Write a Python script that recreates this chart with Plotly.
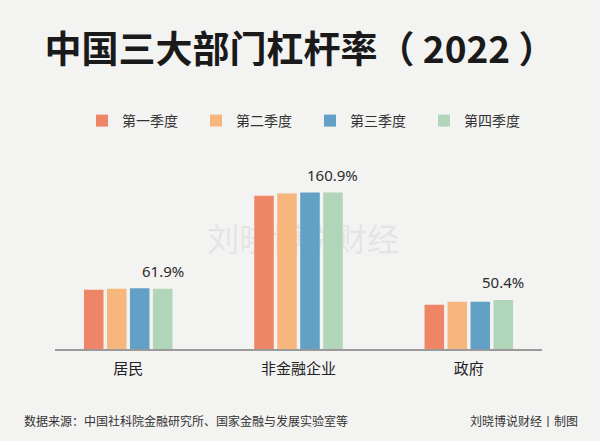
import plotly.graph_objects as go

categories = ["居民", "非金融企业", "政府"]
quarters = ["第一季度", "第二季度", "第三季度", "第四季度"]
q1 = [61.0, 157.6, 45.4]
q2 = [61.9, 159.9, 48.6]
q3 = [62.4, 160.9, 48.7]
q4 = [61.9, 160.9, 50.4]
series = [q1, q2, q3, q4]
colors = ["#EF8567", "#F6B67C", "#62A0C5", "#B0D5B8"]
labels = ["61.9%", "160.9%", "50.4%"]

fig = go.Figure()
for name, vals, c in zip(quarters, series, colors):
    fig.add_trace(go.Bar(x=categories, y=vals, name=name, marker=dict(color=c, line=dict(width=0))))

W, H = 600, 441
ml, mr, mt, mb = 55, 58, 174, 92
pw = W - ml - mr

# value labels above the last quarter bars
slot_shift = 1.5 * (1 - 0.46) * (pw / 2.86) / 4
for cat, v, t in zip(categories, q4, labels):
    fig.add_annotation(x=cat, y=v, text=t, showarrow=False, xshift=slot_shift,
                       yanchor="bottom", yshift=6,
                       font=dict(family="Noto Sans, Open Sans, sans-serif", size=15, color="#2b2b2b"))

# watermark behind bars
fig.add_shape(type="rect", xref="paper", yref="paper", x0=0.3, x1=0.72, y0=0.48, y1=0.74,
              line=dict(width=0), fillcolor="rgba(0,0,0,0)", layer="below",
              label=dict(text="刘晓博说财经", font=dict(family="Noto Sans CJK SC", size=32, color="rgba(200,200,200,0.35)")))

# footer
fig.add_annotation(xref="paper", yref="paper", x=(22 - ml) / pw, y=-(420 - (H - mb)) / (H - mt - mb),
                   xanchor="left", yanchor="middle", showarrow=False,
                   text="数据来源：中国社科院金融研究所、国家金融与发展实验室等",
                   font=dict(family="Noto Sans CJK SC", size=12, color="#333333"))
fig.add_annotation(xref="paper", yref="paper", x=(580 - ml) / pw, y=-(420 - (H - mb)) / (H - mt - mb),
                   xanchor="right", yanchor="middle", showarrow=False,
                   text="刘晓博说财经丨制图",
                   font=dict(family="Noto Sans CJK SC", size=12, color="#333333"))

fig.update_layout(
    width=W, height=H,
    margin=dict(l=ml, r=mr, t=mt, b=mb, pad=0),
    paper_bgcolor="#F3F3F2", plot_bgcolor="rgba(0,0,0,0)",
    barmode="group", bargap=0.46, bargroupgap=0.15,
    title=dict(text="<b>中国三大部门杠杆率（ 2022 ）</b>", x=0.5, xanchor="center",
               y=1 - 50 / H, yanchor="middle", yref="container",
               font=dict(family="Noto Sans CJK SC", size=37, color="#1a1a1a")),
    legend=dict(orientation="h", x=(82 - ml) / pw, xanchor="left",
                y=(H - mb - 121) / (H - mt - mb), yanchor="middle",
                entrywidth=69, entrywidthmode="pixels", traceorder="normal",
                bgcolor="rgba(0,0,0,0)",
                font=dict(family="Noto Sans CJK SC", size=14, color="#333333")),
    showlegend=True,
    xaxis=dict(range=[-0.43, 2.43], showline=True, linecolor="#9a9a9a", linewidth=1.5,
               showgrid=False, zeroline=False, ticks="", ticklabelstandoff=5,
               tickfont=dict(family="Noto Sans CJK SC", size=15, color="#222222"), fixedrange=True),
    yaxis=dict(range=[0, 180], visible=False, showgrid=False, zeroline=False, fixedrange=True),
)

fig.write_html("out.html")
